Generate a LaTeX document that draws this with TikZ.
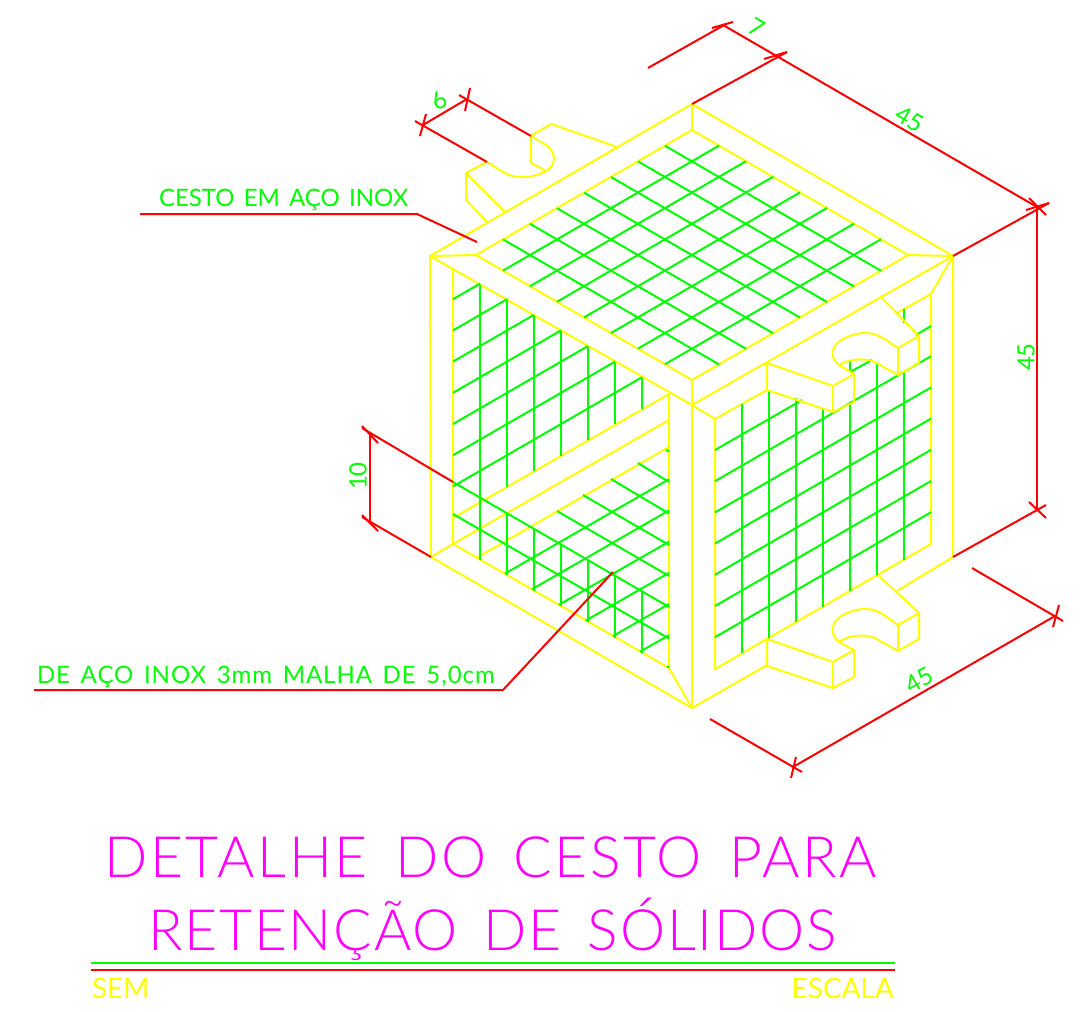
\documentclass[tikz,border=0pt]{standalone}
\usepackage{fontspec}
\newfontfamily\cadfont[WordSpace=1.5]{Lato}
\newfontfamily\cadwide[LetterSpace=4,WordSpace=1.5]{Lato}
\newfontfamily\cadthin[UprightFont=* Light,LetterSpace=4.7,WordSpace=1.5]{Lato}
\newfontfamily\cadthinner[UprightFont=* Light,LetterSpace=3.2,WordSpace=1.5]{Lato}
\definecolor{cadyellow}{RGB}{255,255,0}
\definecolor{cadgreen}{RGB}{0,255,0}
\definecolor{cadred}{RGB}{255,0,0}
\definecolor{cadmagenta}{RGB}{255,0,255}
\begin{document}
\begin{tikzpicture}[x=1pt,y=-1pt,line width=2pt]
\tikzstyle{frame}=[draw=cadyellow,line join=round]
\tikzstyle{mesh}=[draw=cadgreen]
\tikzstyle{dim}=[draw=cadred]
\tikzstyle{note}=[text=cadgreen, inner sep=0, font=\cadfont\fontsize{24}{24}\selectfont]
\tikzstyle{bigtitle}=[text=cadmagenta, inner sep=0, anchor=base west, font=\cadthin\fontsize{57}{57}\selectfont]
\useasboundingbox (0,0) rectangle (1083,1011);

	%outer edges
	\draw[frame] (430,256) -- (692,104) -- (953,256) -- (953,557) -- (897,591);
	\draw[frame] (767,665) -- (692,708) -- (431,557) -- (430,256) -- (692,405) -- (953,256);
	\draw[frame] (692,380) -- (692,708);
	\draw[frame] (692,104) -- (692,130);
	%top face
	\draw[frame] (476,255) -- (692,130) -- (908,255) -- (692,380) -- cycle;
	\draw[frame] (430,256) -- (476,255);
	\draw[frame] (953,256) -- (908,255);
	%left face
	\draw[frame] (453,269) -- (453,544) -- (669,668) -- (669,394);
	\draw[frame] (669,394) -- (453,518);
	\draw[frame] (669,420) -- (453,544);
	\draw[frame] (669,447) -- (478,557);
	\draw[frame] (431,557) -- (453,544);
	\draw[frame] (669,668) -- (692,708);
	%right face
	\draw[frame] (692,405) -- (715,419) -- (715,669) -- (931,544) -- (931,294) -- (953,256);
	\draw[frame] (715,419) -- (767,390);
	\draw[frame] (897,313) -- (931,294);

	%mesh of the top face
	\foreach \k in {1,...,7}{
		\draw[mesh] ({476+27*\k},{255-15.6*\k}) -- ++(216,125);
		\draw[mesh] ({476+27*\k},{255+15.6*\k}) -- ++(216,-125);
	}
	%mesh of the left face
	\foreach \k in {1,...,7}{
		\draw[mesh] ({453+27*\k},{269+15.6*\k}) -- ({453+27*\k},{518-15.6*\k});
		\draw[mesh] (453,{268+31.2*\k}) -- ({453+27*\k},{268+15.6*\k});
		\draw[mesh] (669,{448+31.2*\k}) -- ({478+27*\k},{558+15.6*\k});
	}
	\draw[mesh] (480,400) -- (480,560);
	\foreach \k in {2,...,7}{
		\draw[mesh] ({453+27*\k},{482+15.6*\k}) -- ({453+27*\k},{544+15.6*\k});
	}
	%mesh seen through the bottom
	\foreach \a/\b/\c in {666/450/451,638/463/482,611/479/513.5,583/495/545,557/511/576,453/482/607,453/514/638.5}{
		\draw[mesh] (\a,\b) -- (669,\c);
	}
	%mesh of the right face
	\foreach \k/\t in {1/404,2/390,3/398,4/408,5/402,6/362,7/373}{
		\draw[mesh] ({715+27*\k},\t) -- ({715+27*\k},{669-15.6*\k});
	}
	\draw[mesh] (850,360) -- (850,372);
	\draw[mesh] (904,309) -- (904,323);
	\foreach \k in {1,...,6}{
		\draw[mesh] (715,{450+31.2*\k}) -- (931,{325+31.2*\k});
	}
	\draw[mesh] (715,450) -- (802,400);
	\draw[mesh] (850,372) -- (872,360);
	\draw[mesh] (916,335) -- (931,326);

	%upper handle
	\draw[frame] (880,296) -- (919,336) -- (919,363) -- (898,375) -- (898,348) -- (919,336);
	\draw[frame] (767,363) -- (767,390) -- (833,412) -- (854,402) -- (854,374) -- (833,386) -- cycle;
	\draw[frame] (833,386) -- (833,412);
	\draw[frame] (854,374) -- (839,365) .. controls (827,356) and (830,338) .. (862,333) .. controls (878,332) and (885,340) .. (898,348);
	\draw[frame] (839,365) .. controls (850,358) and (870,357) .. (880,365) -- (898,375);
	%lower handle
	\draw[frame] (879,576) -- (919,613) -- (919,639) -- (898,651) -- (898,625) -- (919,613);
	\draw[frame] (767,639) -- (767,666) -- (833,688) -- (854,677) -- (854,650) -- (833,662) -- cycle;
	\draw[frame] (833,662) -- (833,688);
	\draw[frame] (854,650) -- (839,642) .. controls (827,632) and (830,614) .. (862,609) .. controls (878,608) and (885,616) .. (898,625);
	\draw[frame] (839,642) .. controls (850,634) and (870,633) .. (880,641) -- (898,651);
	%rear handle
	\draw[frame] (617,147) -- (551,124) -- (531,136) -- (531,163) -- (546,171);
	\draw[frame] (531,136) -- (546,145) .. controls (557,152) and (556,166) .. (546,171);
	\draw[frame] (546,171) .. controls (530,180) and (512,178) .. (503,172) -- (487,162) -- (466,173) -- (466,200) -- (487,222);
	\draw[frame] (466,173) -- (505,212);

	%dimension 7
	\draw[dim] (648,68) -- (726,24);
	\draw[dim] (712,28) -- (733,22);
	\draw[dim] (692,104) -- (787,52);
	\draw[dim] (764,59) -- (787,52);
	\draw[dim] (723,25) -- (1037,207);
	%dimension 45 on the right
	\draw[dim] (953,256) -- (1049,203);
	\draw[dim] (1026,210) -- (1049,203);
	\draw[dim] (1029,198) -- (1046,215);
	\draw[dim] (1037,207) -- (1037,509);
	\draw[dim] (953,557) -- (1046,505);
	\draw[dim] (1029,502) -- (1046,518);
	%dimension 45 below
	\draw[dim] (972,568) -- (1063,621);
	\draw[dim] (1059,605) -- (1053,627);
	\draw[dim] (1055,616) -- (793,767);
	\draw[dim] (710,719) -- (802,772);
	\draw[dim] (796,757) -- (791,778);
	%dimension 6
	\draw[dim] (415,121) -- (487,162);
	\draw[dim] (426,114) -- (420,136);
	\draw[dim] (459,95) -- (531,136);
	\draw[dim] (470,88) -- (465,111);
	\draw[dim] (423,125) -- (467,99);
	%dimension 10
	\draw[dim] (362,428) -- (453,482);
	\draw[dim] (362,426) -- (378,443);
	\draw[dim] (362,517) -- (431,557);
	\draw[dim] (362,515) -- (378,531);
	\draw[dim] (370,434) -- (370,523);
	%leaders
	\draw[dim] (140,214) -- (417,214) -- (477,242);
	\draw[dim] (34,690) -- (503,690) -- (613,572);
	%title rules
	\draw[mesh] (91,963) -- (895,963);
	\draw[dim] (91,970) -- (895,970);

	%texts
	\node[note,anchor=base west] (inoxnote) at (158,206) {CESTO EM AÇO INOX};
	\node[note,anchor=base west,font=\cadwide\fontsize{24}{24}\selectfont] (meshnote) at (36,683) {DE AÇO INOX 3mm MALHA DE 5,0cm};
	\node[note,rotate=-30] (dimseven) at (757,28) {7};
	\node[note,rotate=-30] (dimtop) at (910,119) {45};
	\node[note,rotate=30] (dimsix) at (439,101) {6};
	\node[note,rotate=90] (dimright) at (1026,357) {45};
	\node[note,rotate=30] (dimbelow) at (919,680) {45};
	\node[note,rotate=90] (dimten) at (358,476) {10};
	\node[bigtitle] (titleone) at (103,877) {DETALHE DO CESTO PARA};
	\node[bigtitle,font=\cadthinner\fontsize{57}{57}\selectfont] (titletwo) at (147,950) {RETENÇÃO DE SÓLIDOS};
	\node[note,text=cadyellow,anchor=base west,font=\cadfont\fontsize{28}{28}\selectfont] (scaleone) at (91,998) {SEM};
	\node[note,text=cadyellow,anchor=base east,font=\cadfont\fontsize{28}{28}\selectfont] (scaletwo) at (895,998) {ESCALA};

\end{tikzpicture}
\end{document}
